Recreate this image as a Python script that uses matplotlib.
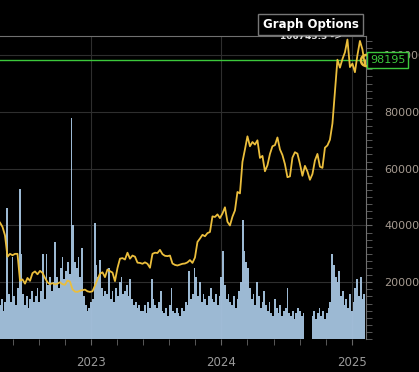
import numpy as np
import pandas as pd
import matplotlib
matplotlib.use("Agg")
import matplotlib.pyplot as plt
import matplotlib.dates as mdates
from matplotlib.ticker import MultipleLocator, FixedLocator

# weekly closes (USD), first point 2022-04-21
price = [
    41000, 39500, 36500, 29000, 30000, 29500, 30000, 30000, 20500, 21000,
    19500, 21500, 20500, 23200, 23800, 22800, 24000, 23300, 21500, 20000,
    19300, 19700, 19200, 19500, 20000, 19300, 19100, 20600, 20200, 17500,
    16700, 16600, 17000, 17200, 17400, 16800, 16600,
    16800, 18800, 21000, 23000, 23500, 21800, 24500, 23900, 23400, 20400,
    25000, 28300, 28500, 28000, 30400, 28300, 29400, 29000, 26900, 26800,
    26500, 27000, 26500, 25100, 30000, 30400, 30300, 31400, 29900, 29300,
    29200, 29400, 26600, 26100, 25900, 26200, 26500, 26600, 27000, 27800,
    26800, 28700, 34200, 35400, 36700, 36200, 37300, 37700, 43200, 43000,
    43900, 42600,
    44200, 46400, 41300, 40000, 43100, 45300, 51800, 51300, 62400, 66800,
    71400, 67900, 69400, 68500, 70000, 63800, 64500, 59100, 61200, 65200,
    67900, 68300, 71000, 66800, 64800, 61600, 57000, 57300, 63900, 65800,
    65300, 61700, 57500, 61000, 59000, 56100, 58100, 62900, 65200, 60700,
    60300, 67400, 68200, 70200, 75900, 87200, 98400, 95600, 98600, 101000,
    105500, 95800,
    97000, 94000, 100000, 105000, 102000, 96500, 98195,
]
price_dates = pd.date_range("2022-04-21", periods=len(price) - 1, freq="7D")
price_dates = price_dates.append(pd.DatetimeIndex(["2025-02-09"]))

# volume, every 5 days, in thousands (same visual scale as price/1000)
volume = [
    12, 14, 10, 13, 46, 16, 13, 29, 15, 12,
    18, 53, 30, 16, 12, 15, 11, 14, 17, 13,
    15, 18, 13, 17, 30, 14, 30, 19, 22, 17,
    20, 34, 22, 18, 25, 29, 21, 24, 27, 23,
    78, 40, 27, 25, 29, 22, 32, 15, 12, 10,
    11, 13, 14, 41, 26, 22, 28, 18, 15, 17,
    16, 25, 14, 17, 13, 18, 15, 20, 22, 16,
    17, 19, 15, 21, 14, 12, 13, 11, 12, 10,
    10, 12, 9, 13, 11, 21, 14, 12, 11, 13,
    17, 10, 9, 11, 8, 12, 18, 10, 9, 11,
    9, 8, 11, 10, 13, 12, 24, 14, 16, 25,
    22, 15, 20, 13, 16, 14, 12, 15, 18, 14,
    13, 16, 12, 15, 22, 31, 19, 14, 16, 13,
    12, 15, 11, 14, 17, 20, 42, 31, 27, 25,
    18, 14, 16, 12, 20, 15, 11, 13, 17, 12,
    10, 13, 9, 8, 14, 11, 9, 12, 8, 10,
    11, 18, 9, 8, 10, 7, 9, 11, 10, 8,
    9, 0, 0, 0, 0, 8, 10, 7, 9, 11,
    8, 10, 7, 9, 11, 13, 30, 26, 22, 20,
    24, 15, 17, 12, 14, 11, 16, 10, 13, 18,
    21, 15, 22, 14, 16,
]
vol_dates = pd.date_range("2022-04-21", periods=len(volume), freq="5D")

last_price = 98195
max_price = 106743.3
y_ticks = [20000, 40000, 60000, 80000, 100000]
years = ["2023-01-01", "2024-01-01", "2025-01-01"]
year_nums = mdates.date2num(pd.to_datetime(years))

fig = plt.figure(figsize=(4.19, 3.72), dpi=100, facecolor="black")
rect = [0.0, 0.0887, 0.8735, 0.8145]
x0, x1 = pd.Timestamp("2022-04-21"), pd.Timestamp("2025-02-09")

# volume bars underneath, grid drawn here so it stays behind the bars
axv = fig.add_axes(rect)
axv.set_facecolor("black")
axv.set_axisbelow(True)
axv.bar(vol_dates, volume, width=5, color="#a6c4e0", linewidth=0, alpha=0.95)
axv.set_xlim(x0, x1)
axv.set_ylim(0, max_price / 1000)
axv.set_yticks([v / 1000 for v in y_ticks])
axv.set_xticks(year_nums)
axv.grid(True, color="#2e2e2e", lw=0.8)
axv.tick_params(left=False, bottom=False, labelleft=False, labelbottom=False)
for s in axv.spines.values():
    s.set_visible(False)

ax = fig.add_axes(rect)
ax.patch.set_visible(False)
ax.plot(price_dates, price, color="#ebbe3c", lw=1.3, zorder=3)
ax.plot(price_dates[-1], last_price, "o", mfc="none", mec="#ebbe3c", ms=8, mew=1.8,
        clip_on=False, zorder=4)
ax.axhline(last_price, color="#3cc83c", lw=1, zorder=2)
ax.set_xlim(x0, x1)
ax.set_ylim(0, max_price)

ax.yaxis.tick_right()
ax.set_yticks(y_ticks)
ax.set_yticklabels([str(v) for v in y_ticks])
ax.yaxis.set_minor_locator(MultipleLocator(2500))

ax.xaxis.set_major_locator(FixedLocator(year_nums))
ax.xaxis.set_major_formatter(mdates.DateFormatter("%Y"))
minor = []
for y in [2022, 2023, 2024, 2025]:
    for k in range(1, 5):
        minor.append(pd.Timestamp(f"{y}-01-01") + pd.Timedelta(days=73 * k))
ax.xaxis.set_minor_locator(FixedLocator(mdates.date2num(pd.to_datetime(minor))))

ax.tick_params(axis="both", which="both", direction="out", length=4, color="#666666")
ax.tick_params(axis="y", which="major", pad=9, labelsize=8, labelcolor="#a59a90")
ax.tick_params(axis="x", which="major", pad=8, labelsize=8.5, labelcolor="#9a9a9a")

for s in ["left", "bottom"]:
    ax.spines[s].set_visible(False)
for s in ["top", "right"]:
    ax.spines[s].set_color("#707070")

fig.text(0.883, 0.839, "98195", color="#3cc83c", fontsize=8, ha="left", va="center",
         bbox=dict(boxstyle="square,pad=0.25", fc="black", ec="#3cc83c", lw=1))
fig.text(0.816, 0.901, "106743.3 ->", color="#dddddd", fontsize=6.5, fontweight="bold",
         ha="right", va="center")
fig.text(0.741, 0.934, "Graph Options", color="white", fontsize=8.5, fontweight="bold",
         ha="center", va="center",
         bbox=dict(boxstyle="square,pad=0.35", fc="black", ec="#777777", lw=1))

fig.savefig("out.png", dpi=100, facecolor="black")
